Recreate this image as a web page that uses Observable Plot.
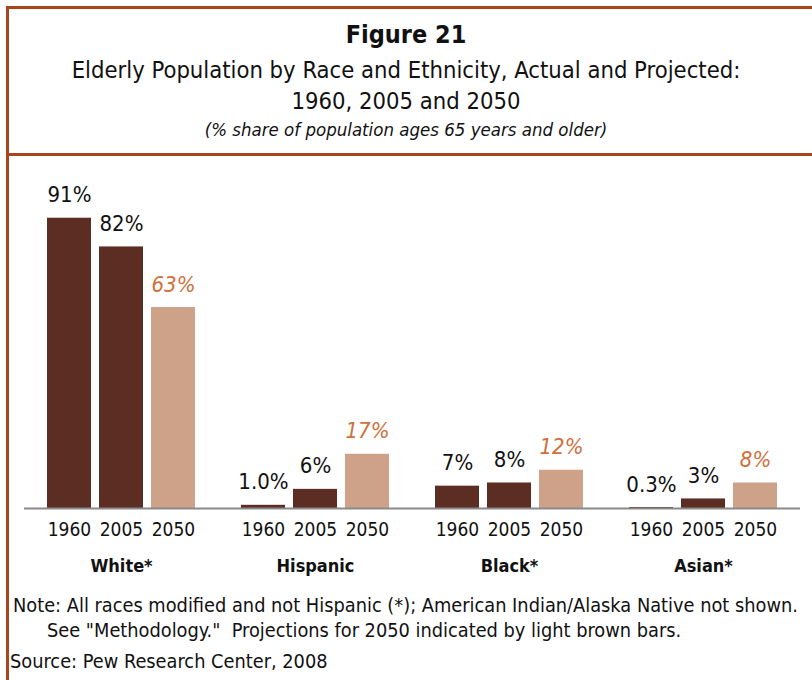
<!DOCTYPE html>
<html><head><meta charset="utf-8">
<script src="https://cdn.jsdelivr.net/npm/d3@7"></script>
<script src="https://cdn.jsdelivr.net/npm/@observablehq/plot@0.6"></script>
<style>
  html,body{margin:0;padding:0;background:#fff;}
  #wrap{position:relative;width:812px;height:680px;overflow:hidden;font-family:"Liberation Sans Narrow","DejaVu Sans Condensed","Roboto",sans-serif;color:#111;}
  .t{position:absolute;left:0;width:812px;text-align:center;white-space:nowrap;}
  .n{position:absolute;white-space:nowrap;font-size:19.8px;}
  #chart{position:absolute;left:0;top:158px;}
  .line{position:absolute;background:#a8451c;}
</style></head>
<body><div id="wrap">
  <div class="line" style="left:6px;top:6px;width:806px;height:3px"></div>
  <div class="line" style="left:6px;top:6px;width:3px;height:674px"></div>
  <div class="line" style="left:6px;top:153px;width:806px;height:3px"></div>
  <div class="t" style="top:20px;font-size:25px;font-weight:bold">Figure 21</div>
  <div class="t" style="top:56px;font-size:23.6px">Elderly Population by Race and Ethnicity, Actual and Projected:</div>
  <div class="t" style="top:87px;font-size:23.6px">1960, 2005 and 2050</div>
  <div class="t" style="top:119px;font-size:18.5px;font-style:italic">(% share of population ages 65 years and older)</div>
  <div id="chart"></div>
  <div class="n" style="left:13px;top:594px">Note: All races modified and not Hispanic (*); American Indian/Alaska Native not shown.</div>
  <div class="n" style="left:47px;top:619px">See "Methodology."&nbsp; Projections for 2050 indicated by light brown bars.</div>
  <div class="n" style="left:10px;top:650px">Source: Pew Research Center, 2008</div>
</div>
<script>
const groups = ["White*", "Hispanic", "Black*", "Asian*"];
const years = ["1960", "2005", "2050"];
const white = [91, 82, 63];
const hispanic = [1.0, 6, 17];
const black = [7, 8, 12];
const asian = [0.3, 3, 8];
const whiteLabels = ["91%", "82%", "63%"];
const hispanicLabels = ["1.0%", "6%", "17%"];
const blackLabels = ["7%", "8%", "12%"];
const asianLabels = ["0.3%", "3%", "8%"];

const series = [white, hispanic, black, asian];
const labels = [whiteLabels, hispanicLabels, blackLabels, asianLabels];
const data = [];
groups.forEach((g, i) => years.forEach((y, j) => data.push({group: g, year: y, value: series[i][j], label: labels[i][j], projected: y === "2050"})));

const font = "'Liberation Sans Narrow','DejaVu Sans Condensed',Roboto,sans-serif";
const chart = Plot.plot({
  width: 812, height: 430,
  marginLeft: 44, marginRight: 32.5, marginTop: 31, marginBottom: 80,
  style: {fontFamily: font, color: "#111", background: "transparent"},
  fx: {domain: groups, paddingInner: 0.226, paddingOuter: 0, label: null},
  x: {domain: years, paddingInner: 0.15, paddingOuter: 0, label: null},
  y: {domain: [0, 100], axis: null},
  color: {domain: [false, true], range: ["#5c2d23", "#cea289"]},
  marks: [
    Plot.barY(data, {fx: "group", x: "year", y: "value", fill: "projected"}),
    Plot.ruleY([0], {stroke: "#8a8a8a", strokeWidth: 2, insetLeft: -22, insetRight: -22}),
    Plot.text(data.filter(d => !d.projected), {fx: "group", x: "year", y: "value", text: "label", lineAnchor: "bottom", dy: -16, fontSize: 22, fill: "#111"}),
    Plot.text(data.filter(d => d.projected), {fx: "group", x: "year", y: "value", text: "label", lineAnchor: "bottom", dy: -16, fontSize: 22, fill: "#d0703a", fontStyle: "italic"}),
    Plot.axisX({tickSize: 0, tickPadding: 14, fontSize: 19, label: null}),
    Plot.axisFx({anchor: "bottom", tickSize: 0, tickPadding: 51, fontSize: 18, fontWeight: "bold", label: null})
  ]
});
document.getElementById("chart").appendChild(chart);
</script>
</body></html>
